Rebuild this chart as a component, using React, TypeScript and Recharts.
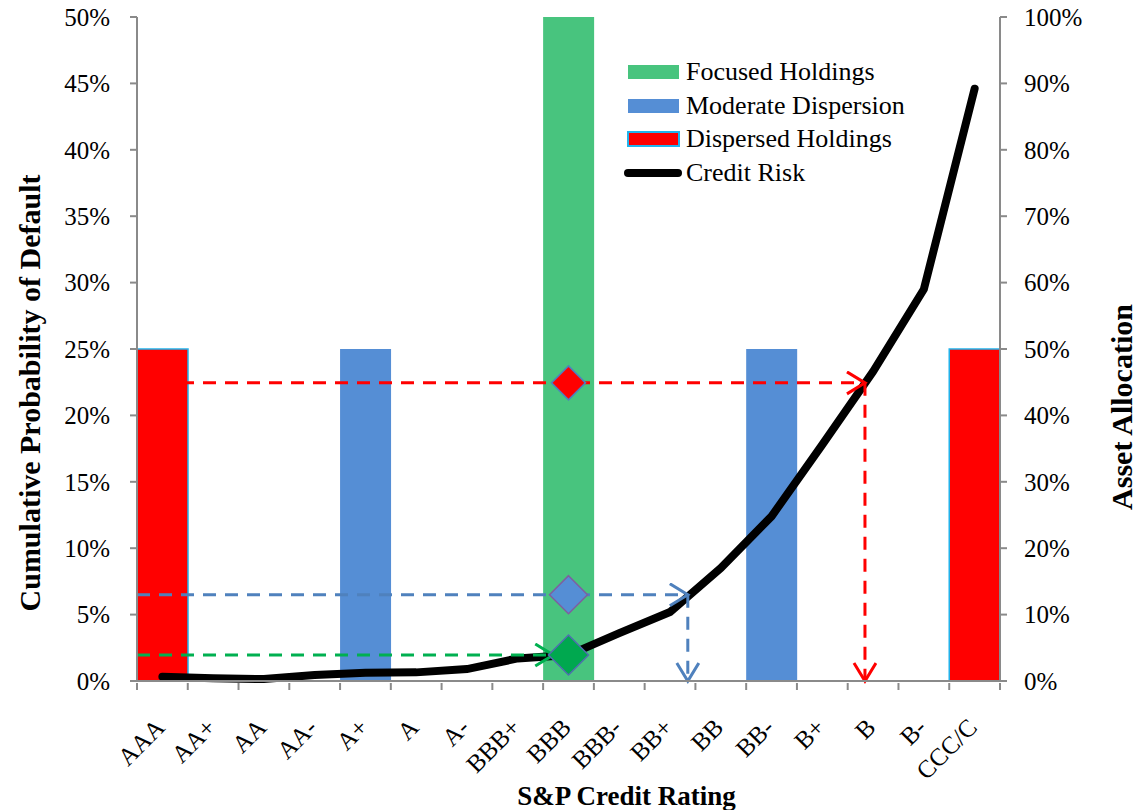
import {
  Bar,
  ComposedChart,
  Legend,
  Line,
  ReferenceDot,
  ReferenceLine,
  XAxis,
  YAxis,
} from 'recharts'

const ratings = ['AAA', 'AA+', 'AA', 'AA-', 'A+', 'A', 'A-', 'BBB+', 'BBB', 'BBB-', 'BB+', 'BB', 'BB-', 'B+', 'B', 'B-', 'CCC/C']

// cumulative probability of default (left axis)
const creditRisk = [0.0032, 0.002, 0.0015, 0.0045, 0.0063, 0.0065, 0.009, 0.017, 0.0195, 0.036, 0.052, 0.085, 0.124, 0.178, 0.233, 0.295, 0.446]

// asset allocation (right axis)
const focused = [null, null, null, null, null, null, null, null, 1, null, null, null, null, null, null, null, null]
const moderate = [null, null, null, null, 0.5, null, null, null, null, null, null, null, 0.5, null, null, null, null]
const dispersed = [0.5, null, null, null, null, null, null, null, null, null, null, null, null, null, null, null, 0.5]

const leftTicks = [0, 0.05, 0.1, 0.15, 0.2, 0.25, 0.3, 0.35, 0.4, 0.45, 0.5]
const rightTicks = [0, 0.1, 0.2, 0.3, 0.4, 0.5, 0.6, 0.7, 0.8, 0.9, 1]

// portfolio expected default levels, and where they meet the curve (in rating units)
const dispersedLevel = 0.2245
const dispersedHit = 14.34
const moderateLevel = 0.065
const moderateHit = 10.85
const focusedLevel = 0.0196
const focusedEnd = 8.2

// ratings sit at the middle of unit slots on a numeric axis, so the tick marks can fall between them
const data = ratings.map((r, i) => ({
  rating: r,
  pos: i + 0.5,
  creditRisk: creditRisk[i],
  focused: focused[i],
  moderate: moderate[i],
  dispersed: dispersed[i],
}))
const xTicks: number[] = []
for (let i = 0; i <= ratings.length * 2; i++) xTicks.push(i / 2)

const W = 1140
const H = 810

const FONT = '"Liberation Serif", "Times New Roman", serif'
const AXIS = '#8a8a8a'
const GREEN = '#48C47E'
const BLUE = '#558ED5'
const RED = '#FF0000'
const CYAN = '#22B4EC'

const legendItems = [
  { name: 'Focused Holdings', color: GREEN, kind: 'rect' },
  { name: 'Moderate Dispersion', color: BLUE, kind: 'rect' },
  { name: 'Dispersed Holdings', color: RED, kind: 'rect', border: CYAN },
  { name: 'Credit Risk', color: '#000', kind: 'line' },
]

const pct = (v: number) => `${Math.round(v * 100)}%`

const RatingTick = (props: any) => {
  const { x, y, payload } = props
  const v = payload.value
  if (Number.isInteger(v)) {
    return <line x1={x} y1={y} x2={x} y2={y + 7} stroke={AXIS} strokeWidth={2} />
  }
  const ax = x + 4
  const ay = y + 46
  return (
    <text x={ax} y={ay} textAnchor='end' fontSize={25} fontFamily={FONT} fill='#000' transform={`rotate(-45, ${ax}, ${ay})`}>
      {ratings[Math.floor(v)]}
    </text>
  )
}

const renderLegend = () => (
  <div style={{ fontFamily: FONT, fontSize: 26, color: '#000' }}>
    {legendItems.map((item) => (
      <div key={item.name} style={{ display: 'flex', alignItems: 'center', height: 33.7 }}>
        <svg width={58} height={20} style={{ marginRight: 4 }}>
          {item.kind === 'rect' ? (
            <rect
              x={4}
              y={3}
              width={51}
              height={14}
              fill={item.color}
              stroke={item.border || 'none'}
              strokeWidth={item.border ? 2 : 0}
            />
          ) : (
            <line x1={4} y1={10} x2={54} y2={10} stroke='#000' strokeWidth={8} strokeLinecap='round' />
          )}
        </svg>
        <span style={{ lineHeight: 1 }}>{item.name}</span>
      </div>
    ))}
  </div>
)

const Diamond = (fill: string, stroke: string, half: number) => (props: any) => {
  const { cx, cy } = props
  return (
    <polygon
      points={`${cx},${cy - half} ${cx + half},${cy} ${cx},${cy + half} ${cx - half},${cy}`}
      fill={fill}
      stroke={stroke}
      strokeWidth={1.5}
    />
  )
}

const dashed = (color: string, marker?: string) => (p: any) => (
  <line
    x1={p.x1}
    y1={p.y1}
    x2={p.x2}
    y2={p.y2}
    stroke={color}
    strokeWidth={3}
    strokeDasharray='13 9'
    markerEnd={marker ? `url(#${marker})` : undefined}
  />
)

const Markers = () => (
  <svg width={0} height={0} style={{ position: 'absolute' }}>
    <defs>
      {[
        ['arrowRed', RED],
        ['arrowBlue', '#4F81BD'],
        ['arrowGreen', '#00B050'],
      ].map(([id, c]) => (
        <marker key={id} id={id} markerUnits='userSpaceOnUse' markerWidth={24} markerHeight={26} refX={19} refY={12} orient='auto'>
          <path d='M1,1 L19,12 L1,23' fill='none' stroke={c} strokeWidth={3} />
        </marker>
      ))}
    </defs>
  </svg>
)

const App = () => {
  return (
    <div style={{ position: 'absolute', left: 0, top: 0, width: W, height: H, background: '#fff' }}>
      <Markers />
      <ComposedChart
        width={W}
        height={H}
        data={data}
        margin={{ top: 17, right: 0, left: 0, bottom: 0 }}
        barCategoryGap={0}
        barGap={0}
      >
        <XAxis
          dataKey='pos'
          type='number'
          domain={[0, ratings.length]}
          allowDataOverflow
          ticks={xTicks}
          interval={0}
          height={129}
          tickSize={0}
          tickLine={false}
          axisLine={{ stroke: AXIS, strokeWidth: 2 }}
          tick={<RatingTick />}
          label={{
            content: (p: any) => (
              <text
                x={p.viewBox.x + p.viewBox.width / 2 + 58}
                y={805}
                textAnchor='middle'
                fontFamily={FONT}
                fontWeight='bold'
                fontSize={27}
                fill='#000'
              >
                S&amp;P Credit Rating
              </text>
            ),
          }}
        />
        <YAxis
          yAxisId='left'
          width={137}
          domain={[0, 0.5]}
          ticks={leftTicks}
          interval={0}
          tickFormatter={pct}
          tickSize={7}
          tickMargin={20}
          axisLine={{ stroke: AXIS, strokeWidth: 2 }}
          tickLine={{ stroke: AXIS, strokeWidth: 2 }}
          tick={{ fontSize: 25, fontFamily: FONT, fill: '#000' }}
          label={{
            content: () => {
              const x = 40
              const y = 393
              return (
                <text x={x} y={y} textAnchor='middle' fontFamily={FONT} fontWeight='bold' fontSize={30} fill='#000' transform={`rotate(-90, ${x}, ${y})`}>
                  Cumulative Probability of Default
                </text>
              )
            },
          }}
        />
        <YAxis
          yAxisId='right'
          orientation='right'
          width={140}
          domain={[0, 1]}
          ticks={rightTicks}
          interval={0}
          tickFormatter={pct}
          tickSize={7}
          tickMargin={17}
          axisLine={{ stroke: AXIS, strokeWidth: 2 }}
          tickLine={{ stroke: AXIS, strokeWidth: 2 }}
          tick={{ fontSize: 25, fontFamily: FONT, fill: '#000' }}
          label={{
            content: () => {
              const x = 1132
              const y = 407
              return (
                <text x={x} y={y} textAnchor='middle' fontFamily={FONT} fontWeight='bold' fontSize={30} fill='#000' transform={`rotate(-90, ${x}, ${y})`}>
                  Asset Allocation
                </text>
              )
            },
          }}
        />
        <Legend
          layout='vertical'
          align='center'
          verticalAlign='middle'
          content={renderLegend}
          wrapperStyle={{ position: 'absolute', left: 624, top: 55, width: 320 }}
        />
        <Bar yAxisId='right' dataKey='focused' name='Focused Holdings' stackId='a' fill={GREEN} isAnimationActive={false} />
        <Bar yAxisId='right' dataKey='moderate' name='Moderate Dispersion' stackId='a' fill={BLUE} isAnimationActive={false} />
        <Bar
          yAxisId='right'
          dataKey='dispersed'
          name='Dispersed Holdings'
          stackId='a'
          fill={RED}
          stroke={CYAN}
          strokeWidth={1.5}
          isAnimationActive={false}
        />
        <Line
          yAxisId='left'
          dataKey='creditRisk'
          name='Credit Risk'
          stroke='#000'
          strokeWidth={8}
          strokeLinecap='round'
          dot={false}
          type='linear'
          isAnimationActive={false}
        />
        <ReferenceLine
          yAxisId='left'
          segment={[{ x: 0, y: dispersedLevel }, { x: dispersedHit, y: dispersedLevel }]}
          shape={dashed(RED, 'arrowRed')}
        />
        <ReferenceLine
          yAxisId='left'
          segment={[{ x: dispersedHit, y: dispersedLevel }, { x: dispersedHit, y: 0 }]}
          shape={dashed(RED, 'arrowRed')}
        />
        <ReferenceLine
          yAxisId='left'
          segment={[{ x: 0, y: moderateLevel }, { x: moderateHit, y: moderateLevel }]}
          shape={dashed('#4F81BD', 'arrowBlue')}
        />
        <ReferenceLine
          yAxisId='left'
          segment={[{ x: moderateHit, y: moderateLevel }, { x: moderateHit, y: 0 }]}
          shape={dashed('#4F81BD', 'arrowBlue')}
        />
        <ReferenceLine
          yAxisId='left'
          segment={[{ x: 0, y: focusedLevel }, { x: focusedEnd, y: focusedLevel }]}
          shape={dashed('#00B050', 'arrowGreen')}
        />
        <ReferenceDot yAxisId='left' x={data[8].pos} y={dispersedLevel} r={17} shape={Diamond(RED, '#4F81BD', 17)} />
        <ReferenceDot yAxisId='left' x={data[8].pos} y={moderateLevel} r={19} shape={Diamond(BLUE, '#7E5FA0', 19)} />
        <ReferenceDot yAxisId='left' x={data[8].pos} y={focusedLevel} r={20} shape={Diamond('#00A84F', '#4F6FB0', 20)} />
      </ComposedChart>
    </div>
  )
}

export default App
